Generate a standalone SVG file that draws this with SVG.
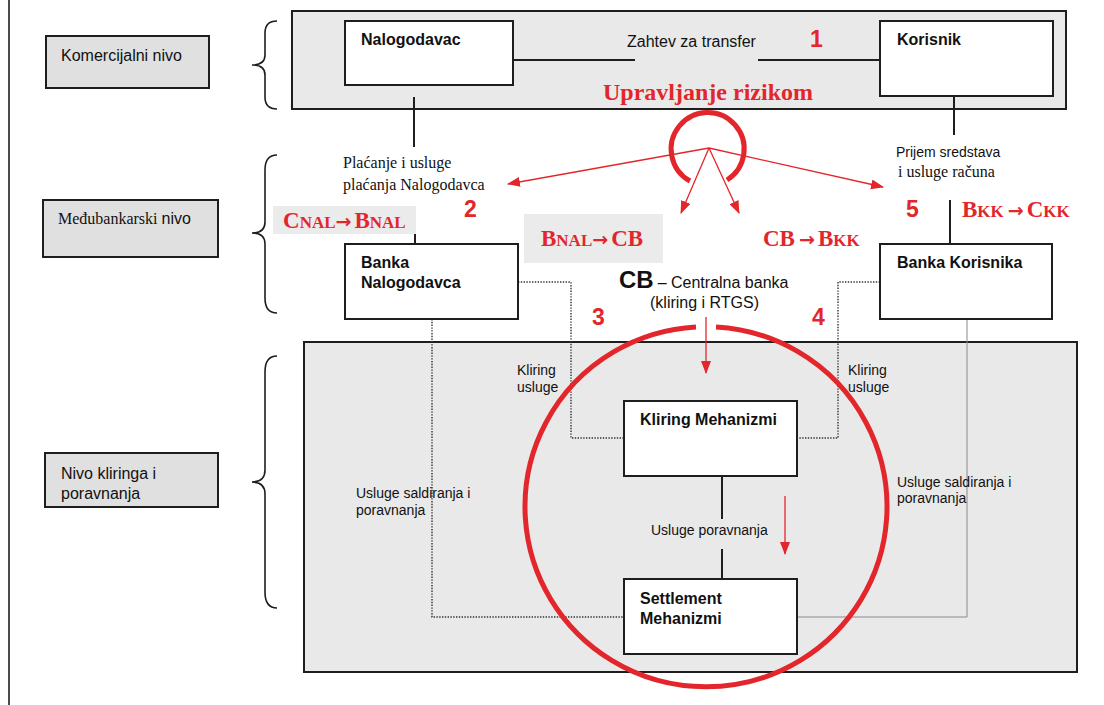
<svg xmlns="http://www.w3.org/2000/svg" width="1104" height="705" viewBox="0 0 1104 705">
  <style>
    .sans { font-family: "Liberation Sans", Arial, sans-serif; fill: #111; }
    .serif { font-family: "Liberation Serif", "Times New Roman", serif; fill: #111; }
    .bold { font-weight: bold; }
    .level { fill: #e0e0e0; stroke: #1e1e1e; stroke-width: 2; }
    .zone { fill: #e9e9e9; stroke: #1e1e1e; stroke-width: 2; }
    .node { fill: #ffffff; stroke: #1e1e1e; stroke-width: 2; }
    .brace { fill: none; stroke: #1e1e1e; stroke-width: 1.6; }
    .link { fill: none; stroke: #1e1e1e; stroke-width: 2; }
    .dotted { fill: none; stroke: #333; stroke-width: 1.4; stroke-dasharray: 1.4 1.4; }
    .thin { fill: none; stroke: #8a8a8a; stroke-width: 1; }
    .redline { fill: none; stroke: #e3262b; stroke-width: 1.3; }
    .ring { fill: none; stroke: #e3262b; stroke-width: 5; }
    .formula { font-family: "Liberation Serif", "Times New Roman", serif; font-weight: bold; fill: #e3262b; }
    .arrow { font-family: "DejaVu Sans", sans-serif; font-weight: bold; }
    .num { font-family: "Liberation Sans", Arial, sans-serif; font-weight: bold; fill: #e3262b; font-size: 23px; }
  </style>
  <defs>
    <marker id="ah" markerWidth="13" markerHeight="10" refX="12" refY="5" orient="auto" markerUnits="userSpaceOnUse">
      <path d="M0,0 L13,5 L0,10 z" fill="#e3262b"/>
    </marker>
  </defs>

  <rect width="1104" height="705" fill="#ffffff"/>
  <line x1="9" y1="0" x2="9" y2="705" stroke="#1e1e1e" stroke-width="1.6"/>

  <!-- level labels -->
  <g id="level-komercijalni">
    <rect class="level" x="46" y="36" width="163" height="52"/>
    <text class="sans" x="61" y="61" font-size="16">Komercijalni nivo</text>
  </g>
  <g id="level-medjubankarski">
    <rect class="level" x="43" y="200" width="175" height="57"/>
    <text x="58" y="224" font-size="16"><tspan class="serif">Međubankarski </tspan><tspan class="sans">nivo</tspan></text>
  </g>
  <g id="level-kliring">
    <rect class="level" x="45" y="453" width="173" height="54"/>
    <text class="sans" x="61" y="479" font-size="16">Nivo kliringa i</text>
    <text class="sans" x="61" y="499" font-size="16">poravnanja</text>
  </g>

  <!-- braces -->
  <g id="braces">
    <path class="brace" d="M277,21 Q265,21 265,33 L265,55 Q265,65 252,65 Q265,65 265,75 L265,97 Q265,109 277,109"/>
    <path class="brace" d="M277,155 Q265,155 265,170 L265,222 Q265,233 252,233 Q265,233 265,244 L265,298 Q265,313 277,313"/>
    <path class="brace" d="M277,356 Q265,356 265,372 L265,470 Q265,482 252,482 Q265,482 265,494 L265,592 Q265,608 277,608"/>
  </g>

  <!-- level containers -->
  <g id="zone-commercial">
    <rect class="zone" x="292" y="11" width="774" height="98"/>
  </g>
  <g id="zone-clearing">
    <rect class="zone" x="304" y="342" width="773" height="330"/>
  </g>

  <!-- connectors -->
  <g id="connectors">
    <line class="link" x1="513" y1="60" x2="635" y2="60"/>
    <line class="link" x1="758" y1="60" x2="880" y2="60"/>
    <line class="link" x1="414" y1="97" x2="414" y2="147"/>
    <line class="link" x1="954" y1="96" x2="954" y2="135"/>
    <line class="link" x1="415" y1="234" x2="415" y2="244"/>
    <line class="link" x1="950" y1="200" x2="950" y2="244"/>
    <line class="link" x1="722" y1="476" x2="722" y2="519"/>
    <line class="link" x1="722" y1="549" x2="722" y2="579"/>
    <path class="dotted" d="M518,282 H571 V438 H624"/>
    <path class="dotted" d="M880,282 H838 V438 H797"/>
    <path class="dotted" d="M432,319 V617 H624"/>
    <path class="thin" d="M797,617 H967 V319"/>
  </g>

  <!-- nodes -->
  <g id="node-nalogodavac">
    <rect class="node" x="345" y="21" width="168" height="64"/>
    <text class="sans bold" x="361" y="45" font-size="16">Nalogodavac</text>
  </g>
  <g id="node-korisnik">
    <rect class="node" x="880" y="21" width="173" height="75"/>
    <text class="sans bold" x="897" y="45" font-size="16">Korisnik</text>
  </g>
  <g id="node-banka-nalogodavca">
    <rect class="node" x="345" y="244" width="173" height="75"/>
    <text class="sans bold" x="361" y="268" font-size="16">Banka</text>
    <text class="sans bold" x="361" y="288" font-size="16">Nalogodavca</text>
  </g>
  <g id="node-banka-korisnika">
    <rect class="node" x="880" y="244" width="172" height="75"/>
    <text class="sans bold" x="897" y="268" font-size="16">Banka Korisnika</text>
  </g>
  <g id="node-kliring">
    <rect class="node" x="624" y="401" width="173" height="75"/>
    <text class="sans bold" x="640" y="425" font-size="16">Kliring Mehanizmi</text>
  </g>
  <g id="node-settlement">
    <rect class="node" x="624" y="579" width="173" height="75"/>
    <text class="sans bold" x="640" y="604" font-size="16">Settlement</text>
    <text class="sans bold" x="640" y="624" font-size="16">Mehanizmi</text>
  </g>

  <!-- connector labels -->
  <g id="labels">
    <text class="sans" x="627" y="47" font-size="16">Zahtev za transfer</text>
    <text class="serif" x="343" y="168" font-size="16">Plaćanje i usluge</text>
    <text class="serif" x="343" y="190" font-size="16">plaćanja Nalogodavca</text>
    <text class="sans" x="896" y="157" font-size="14">Prijem sredstava</text>
    <text class="serif" x="898" y="177" font-size="16">i usluge računa</text>
    <text x="619" y="288"><tspan class="sans bold" font-size="24">CB</tspan><tspan class="sans" font-size="16" dx="4">– Centralna banka</tspan></text>
    <text class="sans" x="650" y="308" font-size="16">(kliring i RTGS)</text>
    <text class="sans" x="517" y="375" font-size="14">Kliring</text>
    <text class="sans" x="517" y="392" font-size="14">usluge</text>
    <text class="sans" x="848" y="375" font-size="14">Kliring</text>
    <text class="sans" x="848" y="392" font-size="14">usluge</text>
    <text class="sans" x="651" y="535" font-size="14">Usluge poravnanja</text>
    <text class="sans" x="356" y="498" font-size="14">Usluge saldiranja i</text>
    <text class="sans" x="356" y="515" font-size="14">poravnanja</text>
    <text class="sans" x="897" y="487" font-size="14">Usluge saldiranja i</text>
    <text class="sans" x="897" y="503" font-size="14"> poravnanja</text>
  </g>

  <!-- risk management overlay -->
  <g id="risk">
    <text class="formula" x="603" y="100" font-size="24">Upravljanje rizikom</text>
    <path class="ring" d="M727,180 A36.5,36.5 0 1 0 690,181"/>
    <line class="redline" x1="709" y1="148" x2="508" y2="184" marker-end="url(#ah)"/>
    <line class="redline" x1="709" y1="148" x2="681" y2="213" marker-end="url(#ah)"/>
    <line class="redline" x1="709" y1="148" x2="739" y2="213" marker-end="url(#ah)"/>
    <line class="redline" x1="709" y1="148" x2="883" y2="187" marker-end="url(#ah)"/>
    <path class="ring" d="M716,327 A181,180 0 1 1 696,327"/>
    <line class="redline" x1="706" y1="317" x2="706" y2="373" marker-end="url(#ah)"/>
    <line class="redline" x1="785" y1="496" x2="785" y2="554" marker-end="url(#ah)"/>
  </g>

  <!-- flow steps -->
  <g id="steps">
    <text class="num" x="810" y="47">1</text>
    <text class="num" x="464" y="217">2</text>
    <text class="num" x="592" y="325">3</text>
    <text class="num" x="812" y="325">4</text>
    <text class="num" x="906" y="217">5</text>
    <rect x="273" y="206" width="143" height="28" fill="#ebebeb"/>
    <text class="formula" x="283" y="228"><tspan font-size="23">C</tspan><tspan font-size="17">NAL</tspan><tspan class="arrow" font-size="19">→</tspan><tspan font-size="23" dx="3">B</tspan><tspan font-size="17">NAL</tspan></text>
    <rect x="524" y="214" width="139" height="49" fill="#ebebeb"/>
    <text class="formula" x="541" y="246"><tspan font-size="23">B</tspan><tspan font-size="17">NAL</tspan><tspan class="arrow" font-size="19">→</tspan><tspan font-size="23" dx="3">CB</tspan></text>
    <text class="formula" x="763" y="246"><tspan font-size="23">CB</tspan><tspan class="arrow" font-size="19" dx="4">→</tspan><tspan font-size="23" dx="3">B</tspan><tspan font-size="17">KK</tspan></text>
    <text class="formula" x="962" y="217"><tspan font-size="23">B</tspan><tspan font-size="17">KK</tspan><tspan class="arrow" font-size="19" dx="4">→</tspan><tspan font-size="23" dx="3">C</tspan><tspan font-size="17">KK</tspan></text>
  </g>
</svg>
